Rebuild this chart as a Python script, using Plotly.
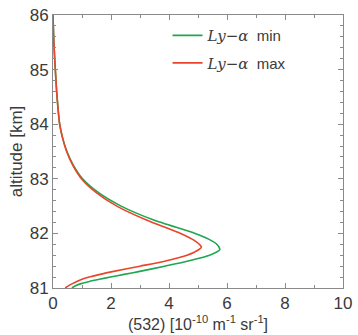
import plotly.graph_objects as go

# altitude [km] and backscatter (532) [1e-10 m^-1 sr^-1]
alt_max = [86.0, 85.5, 85.0, 84.5, 84.0, 83.75, 83.5, 83.25, 83.0, 82.75, 82.5,
           82.25, 82.0, 81.9, 81.8, 81.75, 81.7, 81.6, 81.5, 81.4, 81.3, 81.25,
           81.2, 81.16, 81.12, 81.08, 81.04, 81.0]
val_max = [0.0, 0.03, 0.08, 0.14, 0.23, 0.33, 0.47, 0.68, 0.98, 1.48, 2.2,
           3.2, 4.4, 4.78, 5.05, 5.12, 5.02, 4.62, 3.92, 3.0, 2.05, 1.62,
           1.25, 1.0, 0.82, 0.67, 0.53, 0.42]

alt_min = [86.0, 85.5, 85.0, 84.5, 84.0, 83.75, 83.5, 83.25, 83.0, 82.75, 82.5,
           82.25, 82.0, 81.9, 81.8, 81.7, 81.6, 81.5, 81.4, 81.3, 81.25, 81.2,
           81.16, 81.12, 81.08, 81.04, 81.0]
val_min = [0.0, 0.03, 0.08, 0.14, 0.23, 0.33, 0.48, 0.7, 1.02, 1.56, 2.35,
           3.45, 4.9, 5.35, 5.65, 5.75, 5.4, 4.7, 3.85, 2.95, 2.45, 1.98,
           1.6, 1.25, 0.97, 0.78, 0.65]

x_ticks = [0, 2, 4, 6, 8, 10]
y_ticks = [81, 82, 83, 84, 85, 86]

GREEN = "#1fa64f"
RED = "#e8452c"
TXT = "#3a3a3a"
AX = "#8a8a8a"

lbl = "<span style='font-family:DejaVu Serif'><i>Ly</i>\u2212<i>\u03b1</i></span>"

fig = go.Figure()
fig.add_trace(go.Scatter(x=val_min, y=alt_min, mode="lines", name=lbl + "  min",
                         line=dict(color=GREEN, width=1.6, shape="spline", smoothing=0.7),
                         legendgroup="a"))
fig.add_trace(go.Scatter(x=val_max, y=alt_max, mode="lines", name=lbl + "  max",
                         line=dict(color=RED, width=1.6, shape="spline", smoothing=0.7),
                         legendgroup="b"))

axcommon = dict(showgrid=False, zeroline=False, showline=True, linecolor=AX, linewidth=1,
                mirror="ticks", ticks="inside", ticklen=5, tickcolor=AX,
                ticklabeloverflow="allow",
                tickfont=dict(family="Liberation Sans, Arial", size=17, color=TXT))

fig.update_xaxes(range=[0, 10], tickvals=x_ticks, ticktext=[str(v) for v in x_ticks],
                 minor=dict(dtick=1, ticks="inside", ticklen=3, tickcolor=AX),
                 title=dict(text="(532) [10<sup>-10</sup> m<sup>-1</sup> sr<sup>-1</sup>]",
                            font=dict(family="Liberation Sans, Arial", size=16, color=TXT),
                            standoff=4),
                 **axcommon)
fig.update_yaxes(range=[81, 86], tickvals=y_ticks, ticktext=[str(v) for v in y_ticks],
                 minor=dict(dtick=0.2, ticks="inside", ticklen=3, tickcolor=AX),
                 title=dict(text="altitude [km]",
                            font=dict(family="Liberation Sans, Arial", size=17, color=TXT),
                            standoff=2),
                 **axcommon)

fig.update_layout(
    width=358, height=335,
    margin=dict(l=53, r=6, t=7, b=46),
    paper_bgcolor="white", plot_bgcolor="white",
    showlegend=True,
    legend=dict(x=0.395, y=0.985, xanchor="left", yanchor="top",
                bgcolor="rgba(0,0,0,0)", borderwidth=0,
                font=dict(family="Liberation Sans, Arial", size=15, color=TXT),
                tracegroupgap=5, itemwidth=30),
)

fig.write_html("out.html")
